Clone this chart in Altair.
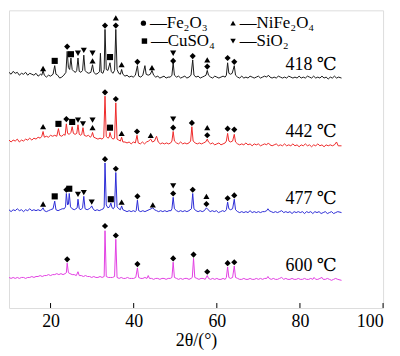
import altair as alt
import pandas as pd

# ---------------- data (2θ in degrees, intensity in a.u., traces stacked) ----------------
x_ticks = [20, 40, 60, 80, 100]
trace_names = ["418 ℃", "442 ℃", "477 ℃", "600 ℃"]
trace_colors = ["#1a1a1a", "#ee2a2a", "#2b2bd6", "#e23ee2"]

trace_418 = [(10.0,247),(10.5,245),(11.0,248),(11.5,246),(12.0,247),(12.5,244),(13.0,246),(13.5,245),(14.0,247),(14.5,244),(15.0,246),(15.5,245),(16.0,244),(16.5,246),(17.0,243),(17.6,245),(17.9,244),(18.2,249),(18.5,244),(19.0,242),(19.5,244),(20.0,243),(20.6,245),(21.0,254),(21.3,245),(21.7,244),(22.2,241),(22.7,242),(23.2,244),(23.7,247),(24.0,269),(24.3,252),(24.6,250),(24.9,262),(25.2,250),(25.6,248),(26.0,247),(26.3,249),(26.6,262),(26.9,248),(27.3,247),(27.7,249),(28.0,265),(28.3,249),(28.7,247),(29.2,246),(29.7,247),(30.1,255),(30.4,247),(30.9,245),(31.4,246),(31.8,248),(32.0,267),(32.2,247),(32.6,246),(32.9,250),(33.1,292),(33.4,250),(33.8,249),(34.3,257),(34.6,248),(35.0,246),(35.4,249),(35.7,292),(36.0,250),(36.4,246),(36.8,245),(37.1,250),(37.4,245),(37.9,243),(38.4,244),(38.9,242),(39.4,243),(39.9,242),(40.4,244),(40.9,254),(41.2,243),(41.7,242),(42.2,244),(42.7,254),(43.0,245),(43.5,244),(44.0,245),(44.4,249),(44.8,244),(45.3,242),(45.8,243),(46.3,241),(46.8,242),(47.3,243),(47.8,241),(48.3,242),(48.8,242),(49.2,244),(49.5,257),(49.8,244),(50.3,242),(50.8,243),(51.3,241),(51.8,242),(52.3,243),(52.8,241),(53.3,242),(53.8,244),(54.2,260),(54.5,244),(55.0,242),(55.5,243),(56.0,241),(56.5,242),(57.0,243),(57.4,244),(57.7,249),(58.0,244),(58.5,242),(59.0,241),(59.5,243),(60.0,242),(60.5,241),(61.0,242),(61.5,243),(62.0,242),(62.3,244),(62.6,257),(62.9,246),(63.3,245),(63.7,246),(64.2,254),(64.5,244),(65.0,242),(65.5,241),(66.0,243),(66.5,241),(67.0,242),(67.5,241),(68.0,243),(68.5,242),(69.0,241),(69.5,242),(70.0,243),(70.5,241),(71.0,242),(71.5,243),(72.0,242),(72.4,244),(72.8,242),(73.3,241),(73.8,242),(74.3,241),(74.8,243),(75.3,242),(75.8,241),(76.3,242),(76.8,241),(77.3,243),(77.8,242),(78.3,241),(78.8,242),(79.3,241),(79.8,243),(80.3,241),(80.8,242),(81.3,241),(81.8,243),(82.3,242),(82.8,241),(83.3,243),(83.8,241),(84.3,242),(84.8,241),(85.3,243),(85.8,241),(86.3,242),(86.8,240),(87.3,242),(87.8,241),(88.3,243),(88.8,241),(89.3,242),(90.0,241)]

trace_442 = [(10.0,176),(10.5,174),(11.0,176),(11.5,175),(12.0,177),(12.5,174),(13.0,176),(13.5,175),(14.0,177),(14.5,176),(15.0,178),(15.5,176),(16.0,178),(16.5,177),(17.0,179),(17.5,178),(17.9,180),(18.2,185),(18.5,179),(19.0,180),(19.5,179),(20.0,181),(20.5,180),(21.0,181),(21.5,180),(21.9,188),(22.2,181),(22.7,180),(23.2,182),(23.5,181),(23.8,193),(24.1,183),(24.5,182),(24.9,184),(25.2,190),(25.5,183),(25.9,182),(26.3,183),(26.6,192),(26.9,182),(27.3,181),(27.5,182),(27.8,189),(28.1,181),(28.6,180),(29.1,181),(29.6,179),(29.9,181),(30.1,184),(30.4,179),(30.9,178),(31.4,177),(31.9,178),(32.4,177),(32.8,179),(33.1,222),(33.4,180),(33.8,178),(34.1,179),(34.3,184),(34.6,179),(35.0,177),(35.4,178),(35.7,215),(36.0,177),(36.4,176),(36.8,175),(37.1,179),(37.4,174),(37.9,174),(38.4,173),(38.9,174),(39.4,172),(39.9,174),(40.4,173),(40.8,181),(41.1,173),(41.6,172),(42.1,174),(42.6,172),(43.1,174),(43.6,175),(44.1,177),(44.5,174),(45.0,175),(45.5,180),(45.9,174),(46.4,172),(46.9,173),(47.4,172),(47.9,173),(48.4,172),(48.9,173),(49.2,175),(49.5,185),(49.8,175),(50.3,173),(50.8,172),(51.3,174),(51.8,172),(52.3,173),(52.8,172),(53.3,173),(53.7,175),(54.0,190),(54.3,175),(54.8,173),(55.3,172),(55.8,173),(56.3,172),(56.8,173),(57.3,174),(57.7,177),(58.0,174),(58.5,172),(59.0,173),(59.5,171),(60.0,172),(60.5,173),(61.0,171),(61.5,172),(62.0,173),(62.3,175),(62.6,183),(62.9,175),(63.3,174),(63.8,175),(64.2,182),(64.5,174),(65.0,172),(65.5,171),(66.0,172),(66.5,171),(67.0,173),(67.5,171),(68.0,172),(68.5,170),(69.0,172),(69.5,171),(70.0,172),(70.5,170),(71.0,171),(71.5,172),(72.0,171),(72.4,173),(72.8,171),(73.3,170),(73.8,171),(74.3,172),(74.8,170),(75.3,171),(75.8,170),(76.3,172),(76.8,170),(77.3,171),(77.8,170),(78.3,172),(78.8,170),(79.3,171),(79.8,169),(80.3,171),(80.8,170),(81.3,172),(81.8,170),(82.3,171),(82.8,169),(83.3,171),(83.8,170),(84.3,172),(84.8,170),(85.3,171),(85.8,169),(86.3,171),(86.8,170),(87.3,171),(87.8,170),(88.3,171),(88.8,174),(89.2,170),(90.0,170)]

trace_477 = [(10.0,103),(10.5,101),(11.0,103),(11.5,102),(12.0,104),(12.5,102),(13.0,103),(13.5,101),(14.0,103),(14.5,102),(15.0,104),(15.5,102),(16.0,103),(16.5,102),(17.0,103),(17.5,102),(17.9,103),(18.2,105),(18.5,102),(19.0,101),(19.5,102),(20.0,103),(20.6,104),(21.0,112),(21.3,103),(21.8,102),(22.3,103),(22.8,104),(23.3,104),(23.6,106),(23.8,120),(24.1,108),(24.3,109),(24.5,120),(24.8,106),(25.2,104),(25.7,103),(26.1,104),(26.4,105),(26.6,114),(26.9,104),(27.3,103),(27.7,105),(28.0,117),(28.3,104),(28.8,103),(29.3,104),(29.6,105),(29.9,107),(30.2,104),(30.7,102),(31.2,103),(31.7,102),(32.2,103),(32.7,104),(32.9,106),(33.1,152),(33.4,108),(33.8,105),(34.2,106),(34.5,110),(34.8,105),(35.1,104),(35.4,106),(35.7,142),(36.0,106),(36.4,104),(36.8,103),(37.1,107),(37.4,103),(37.9,102),(38.4,101),(38.9,102),(39.4,101),(39.9,102),(40.4,101),(40.6,102),(40.9,113),(41.2,102),(41.7,101),(42.2,102),(42.7,101),(43.2,102),(43.7,103),(44.2,104),(44.6,105),(45.0,103),(45.5,102),(46.0,101),(46.5,102),(47.0,101),(47.5,102),(48.0,101),(48.5,102),(49.0,102),(49.2,104),(49.5,116),(49.8,104),(50.3,102),(50.8,101),(51.3,102),(51.8,101),(52.3,102),(52.8,101),(53.3,102),(53.9,104),(54.2,120),(54.5,104),(55.0,102),(55.5,101),(56.0,102),(56.5,101),(57.0,102),(57.5,105),(57.9,103),(58.4,101),(58.9,102),(59.4,101),(59.9,102),(60.4,100),(60.9,101),(61.4,102),(61.9,101),(62.3,103),(62.6,111),(62.9,104),(63.3,103),(63.8,104),(64.2,114),(64.5,103),(65.0,101),(65.5,100),(66.0,101),(66.5,100),(67.0,101),(67.5,100),(68.0,102),(68.5,100),(69.0,101),(69.5,100),(70.0,101),(70.5,100),(71.0,101),(71.5,101),(72.0,102),(72.3,104),(72.6,102),(73.1,101),(73.6,100),(74.1,101),(74.6,100),(75.1,101),(75.6,102),(76.1,100),(76.6,101),(77.1,100),(77.6,101),(78.1,99),(78.6,101),(79.1,100),(79.6,101),(80.1,100),(80.6,101),(81.1,99),(81.6,101),(82.1,100),(82.6,101),(83.1,99),(83.6,101),(84.1,100),(84.6,101),(85.1,99),(85.6,100),(86.1,101),(86.6,99),(87.1,100),(87.6,101),(88.1,99),(88.6,100),(89.1,101),(90.0,100)]

trace_600 = [(10.0,32),(10.5,31),(11.0,32),(11.5,31),(12.0,32),(12.5,31),(13.0,32),(13.5,32),(14.0,31),(14.5,32),(15.0,32),(15.5,33),(16.0,32),(16.5,33),(17.0,33),(17.5,34),(18.0,33),(18.5,34),(19.0,34),(19.5,35),(20.0,34),(20.5,35),(21.0,35),(21.5,36),(22.0,35),(22.5,36),(23.0,35),(23.5,36),(23.8,37),(24.0,47),(24.3,37),(24.7,36),(25.2,35),(25.7,35),(26.2,34),(26.6,38),(26.9,34),(27.4,34),(27.9,33),(28.4,34),(28.9,33),(29.4,33),(29.9,32),(30.4,33),(30.9,32),(31.4,32),(31.9,33),(32.4,32),(32.9,33),(33.1,81),(33.4,33),(33.9,32),(34.4,32),(34.9,32),(35.4,33),(35.7,72),(36.0,32),(36.5,31),(37.0,32),(37.5,31),(38.0,31),(38.5,32),(39.0,31),(39.5,31),(40.0,31),(40.5,32),(40.9,42),(41.2,32),(41.7,31),(42.2,31),(42.7,32),(43.2,31),(43.5,34),(43.8,31),(44.3,31),(44.8,30),(45.3,31),(45.8,31),(46.3,30),(46.8,31),(47.3,31),(47.8,30),(48.3,31),(48.8,31),(49.2,32),(49.5,48),(49.8,32),(50.3,31),(50.8,30),(51.3,31),(51.8,30),(52.3,31),(52.8,31),(53.3,30),(53.8,31),(54.1,32),(54.4,52),(54.7,32),(55.2,31),(55.7,30),(56.2,31),(56.7,31),(57.2,30),(57.7,34),(58.0,31),(58.5,30),(59.0,31),(59.5,30),(60.0,31),(60.5,30),(61.0,30),(61.5,31),(62.0,30),(62.3,32),(62.6,43),(62.9,32),(63.3,31),(63.8,32),(64.2,44),(64.5,32),(65.0,31),(65.5,30),(66.0,30),(66.5,31),(67.0,30),(67.5,30),(68.0,31),(68.5,30),(69.0,30),(69.5,31),(70.0,30),(70.5,31),(71.0,30),(71.5,31),(72.0,31),(72.3,33),(72.6,31),(73.1,30),(73.6,31),(74.1,30),(74.6,30),(75.1,31),(75.6,32),(76.1,30),(76.6,31),(77.1,30),(77.6,30),(78.1,31),(78.6,30),(79.1,30),(79.6,31),(80.1,30),(80.6,30),(81.1,31),(81.6,30),(82.1,30),(82.6,31),(83.1,30),(83.4,32),(83.8,30),(84.3,30),(84.8,31),(85.3,32),(85.6,30),(86.1,30),(86.6,31),(87.1,30),(87.6,29),(88.1,30),(88.6,31),(89.1,30),(90.0,29)]

# phase markers: (2θ, marker level)
phase_names = ["Fe2O3", "NiFe2O4", "CuSO4", "SiO2"]
phase_shapes = ["diamond", "triangle-up", "square", "triangle-down"]
fe2o3_marks = [(24.0,274),(33.1,296),(35.7,296),(40.9,258),(49.5,259),(54.2,264),(57.7,253),(62.6,262),(64.2,258),
               (23.8,198),(33.1,226),(35.7,219),(40.8,185),(49.5,189),(54.0,194),(57.7,181),(62.6,188),(64.2,187),
               (23.8,124),(33.1,156),(35.7,146),(40.9,117),(49.5,120),(54.2,124),(57.5,109),(62.6,115),(64.2,118),
               (24.0,51),(33.1,86),(35.7,76),(40.9,46),(49.5,52),(54.4,56),(57.7,38),(62.6,47),(64.2,48)]
nife2o4_marks = [(18.2,251),(30.1,259),(35.7,304),(37.1,255),(44.4,252),(57.7,260),
                 (18.2,190),(30.1,189),(37.1,183),(44.1,181),(57.7,189),
                 (18.2,109),(37.1,111),(44.6,108),(57.5,117)]
cuso4_marks = [(21.0,259),(24.9,266),(34.3,263),
               (21.9,193),(25.2,195),(34.3,189),
               (21.0,117),(24.5,125),(34.5,114)]
sio2_marks = [(26.6,267),(28.0,270),(30.1,267),(49.5,267),
              (26.6,197),(27.8,193),(30.1,197),(49.5,198),
              (26.6,119),(28.0,121),(29.9,111),(49.5,128)]

label_x = [82.7, 82.7, 82.7, 82.7]
label_y = [255, 184, 114, 44]

legend_symbols = ["circle", "triangle-up", "square", "triangle-down"]
legend_texts = ["—Fe₂O₃", "—NiFe₂O₄", "—CuSO₄", "—SiO₂"]

# ---------------- build tables ----------------
rows = []
for name, tr in zip(trace_names, [trace_418, trace_442, trace_477, trace_600]):
    for i, (x, y) in enumerate(tr):
        rows.append({"x": x, "y": y, "trace": name, "i": i})
lines_df = pd.DataFrame(rows)

mrows = []
for ph, marks in zip(phase_names, [fe2o3_marks, nife2o4_marks, cuso4_marks, sio2_marks]):
    for x, y in marks:
        mrows.append({"x": x, "y": y, "phase": ph})
marks_df = pd.DataFrame(mrows)

labels_df = pd.DataFrame({"x": label_x, "y": label_y, "t": trace_names})
ticks_df = pd.DataFrame({"x": x_ticks})

W, H = 377, 300
FONT = "'Liberation Serif', 'Times New Roman', 'DejaVu Serif', serif"

xscale = alt.Scale(domain=[10, 100], nice=False, zero=False)
yscale = alt.Scale(domain=[0, 312], nice=False, zero=False)

base_x = alt.X("x:Q", scale=xscale,
               axis=alt.Axis(values=x_ticks, title="2θ/(°)", tickSize=0, grid=False, domain=False,
                             labelFont=FONT, labelFontSize=18, labelColor="black", labelPadding=5,
                             titleFont=FONT, titleFontSize=18, titleFontWeight="normal",
                             titleColor="black", titlePadding=1))

lines = alt.Chart(lines_df).mark_line(strokeWidth=1, clip=True).encode(
    x=base_x,
    y=alt.Y("y:Q", scale=yscale, axis=None),
    color=alt.Color("trace:N", scale=alt.Scale(domain=trace_names, range=trace_colors), legend=None),
    order="i:Q",
)

markers = alt.Chart(marks_df).mark_point(filled=True, opacity=1, color="black", size=38).encode(
    x=alt.X("x:Q", scale=xscale),
    y=alt.Y("y:Q", scale=yscale),
    shape=alt.Shape("phase:N", scale=alt.Scale(domain=phase_names, range=phase_shapes), legend=None),
)

labels = alt.Chart(labels_df).mark_text(font=FONT, fontSize=18, color="black", align="center",
                                        baseline="middle").encode(
    x=alt.X("x:Q", scale=xscale), y=alt.Y("y:Q", scale=yscale), text="t:N")

ticks = alt.Chart(ticks_df).mark_rule(color="black", strokeWidth=1).encode(
    x=alt.X("x:Q", scale=xscale), y=alt.value(H), y2=alt.value(H - 5))

# legend drawn inside the plot (pixel positions inside the plot area)
leg_sym_pos = [(135.5, 13.0), (225.8, 13.0), (136.5, 31.0), (225.8, 31.0)]
leg_txt_pos = [(142.0, 13.0), (232.5, 13.0), (143.0, 31.0), (232.5, 31.0)]
leg_layers = []
for sym, txt, (sx, sy), (tx, ty) in zip(legend_symbols, legend_texts, leg_sym_pos, leg_txt_pos):
    d = pd.DataFrame({"t": [txt]})
    leg_layers.append(alt.Chart(d).mark_point(shape=sym, filled=True, color="black", opacity=1,
                                              size=30 if sym != "circle" else 28).encode(
        x=alt.value(sx), y=alt.value(sy)))
    leg_layers.append(alt.Chart(d).mark_text(font=FONT, fontSize=17, color="black", align="left",
                                             baseline="middle").encode(
        x=alt.value(tx), y=alt.value(ty), text="t:N"))

chart = alt.layer(lines, markers, labels, ticks, *leg_layers).properties(
    width=W, height=H, padding={"left": 1, "top": 1, "right": 8, "bottom": 0}
).configure_view(stroke="black", strokeWidth=1.2).configure(background="white")

chart.save("out.html", embed_options={"renderer": "svg", "actions": False})
